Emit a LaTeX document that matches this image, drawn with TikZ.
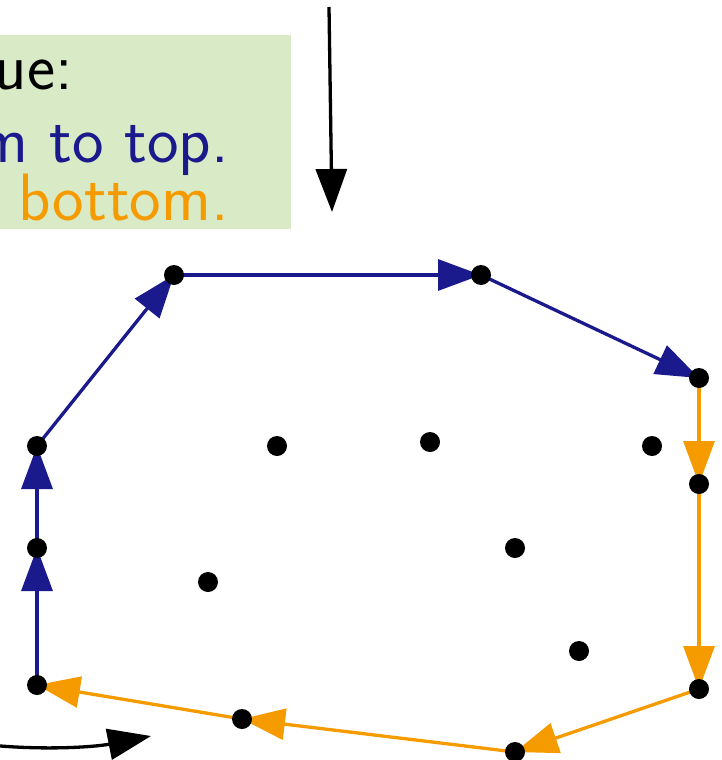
\documentclass[tikz,border=0pt]{standalone}
\usepackage{fontspec}
\usetikzlibrary{arrows.meta}
\definecolor{hullblue}{RGB}{26,26,140}
\definecolor{hullorange}{RGB}{245,155,0}
\definecolor{notegreen}{RGB}{217,234,198}
\tikzset{
  dot/.style={circle,fill=black,inner sep=0pt,minimum size=20pt},
  bigtip/.style={-{Triangle[length=43pt,width=31pt]}},
  upper/.style={hullblue,line width=3.3pt,bigtip},
  lower/.style={hullorange,line width=3.3pt,bigtip},
  pointer/.style={black,line width=3.3pt,bigtip},
  note/.style={inner sep=0pt,font=\sffamily\fontsize{67}{80}\selectfont,anchor=base east}
}
\begin{document}
\begin{tikzpicture}[x=1pt,y=-1pt]
\useasboundingbox (0,0) rectangle (722,760);
% note box
\fill[notegreen] (-5,35) rectangle (291,229);
\node[note,text=black] (t1) at (73,89) {ue:};
\node[note,text=hullblue] (t2) at (229,162) {m to top.};
\node[note,text=hullorange] (t3) at (229,220) {bottom.};
% points
\coordinate (A) at (37,685);
\coordinate (B) at (37,548);
\coordinate (C) at (37,446);
\coordinate (D) at (174,275);
\coordinate (E) at (481,275);
\coordinate (F) at (699,378);
\coordinate (G) at (699,484);
\coordinate (H) at (699,689);
\coordinate (I) at (515,752);
\coordinate (J) at (242,719);
\coordinate (P1) at (277,446);
\coordinate (P2) at (430,442);
\coordinate (P3) at (652,446);
\coordinate (P4) at (515,548);
\coordinate (P5) at (208,582);
\coordinate (P6) at (579,651);
% upper hull
\draw[upper] (A) -- (B);
\draw[upper] (B) -- (C);
\draw[upper] (C) -- (D);
\draw[upper] (D) -- (E);
\draw[upper] (E) -- (F);
% lower hull
\draw[lower] (F) -- (G);
\draw[lower] (G) -- (H);
\draw[lower] (H) -- (I);
\draw[lower] (I) -- (J);
\draw[lower] (J) -- (A);
% dots
\foreach \p in {A,B,C,D,E,F,G,H,I,J,P1,P2,P3,P4,P5,P6}
  \node[dot] (d\p) at (\p) {};
% pointers
\coordinate (s1) at (329,7);
\coordinate (e1) at (332,212);
\draw[pointer] (s1) -- (e1);
\coordinate (s2) at (-20,744);
\coordinate (e2) at (151,736);
\draw[pointer] (s2) .. controls (40,751) and (95,747) .. (e2);
\end{tikzpicture}
\end{document}
